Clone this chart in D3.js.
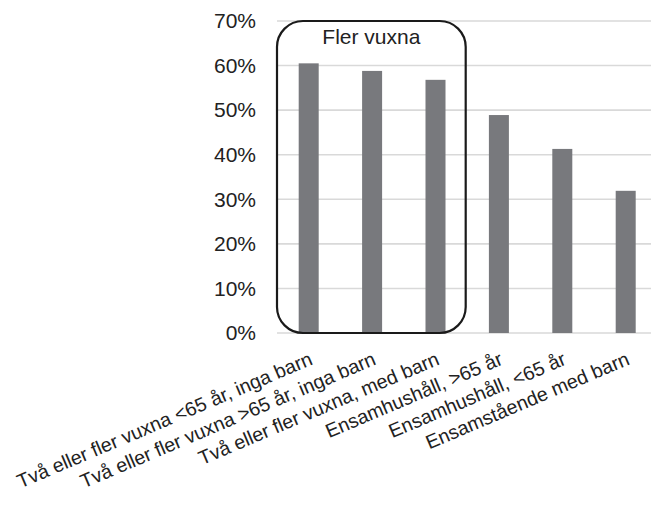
<!DOCTYPE html>
<html>
<head>
<meta charset="utf-8">
<script src="https://cdn.jsdelivr.net/npm/d3@7"></script>
<style>
  html, body { margin: 0; padding: 0; background: #fff; }
  svg { display: block; font-family: "Liberation Sans", Arial, sans-serif; }
</style>
</head>
<body>
<svg id="chart" width="651" height="506"></svg>
<script>
// Hushållstyper och andel per typ
const categories = [
  "Två eller fler vuxna <65 år, inga barn",
  "Två eller fler vuxna >65 år, inga barn",
  "Två eller fler vuxna, med barn",
  "Ensamhushåll, >65 år",
  "Ensamhushåll, <65 år",
  "Ensamstående med barn"
];
const values = [0.605, 0.588, 0.568, 0.489, 0.413, 0.319];
const yTicks = [0, 0.1, 0.2, 0.3, 0.4, 0.5, 0.6, 0.7];
// Kategorier som ringas in som en grupp
const groupLabel = "Fler vuxna";
const groupMembers = categories.slice(0, 3);

const svg = d3.select("#chart");

const x = d3.scaleBand()
  .domain(categories)
  .range([277, 657.4])
  .padding(0);

const y = d3.scaleLinear()
  .domain([0, 0.7])
  .range([333, 21]);

const barWidth = 20;
const textColor = "#222";

// Y-axel med procentetiketter
const yAxis = d3.axisLeft(y)
  .tickValues(yTicks)
  .tickFormat(d3.format(".0%"))
  .tickSize(0)
  .tickPadding(21);

const gy = svg.append("g")
  .attr("transform", "translate(277,0)")
  .call(yAxis);
gy.select(".domain").remove();
gy.selectAll("text")
  .attr("fill", textColor)
  .style("font-size", "21px")
  .style("font-family", "'Liberation Sans', Arial, sans-serif");

// Stödlinjer
svg.append("g")
  .selectAll("line")
  .data(yTicks)
  .join("line")
  .attr("x1", 277)
  .attr("x2", 651)
  .attr("y1", d => y(d))
  .attr("y2", d => y(d))
  .attr("stroke", "#d9d9d9")
  .attr("stroke-width", 1.6);

// Staplar
svg.append("g")
  .selectAll("rect")
  .data(values)
  .join("rect")
  .attr("x", (d, i) => x(categories[i]) + (x.bandwidth() - barWidth) / 2)
  .attr("y", d => y(d))
  .attr("width", barWidth)
  .attr("height", d => y(0) - y(d))
  .attr("fill", "#78797d");

// Kategorietiketter, roterade
const angle = -23;
svg.append("g")
  .selectAll("text")
  .data(categories)
  .join("text")
  .attr("transform", d => `translate(${x(d) + x.bandwidth() / 2 + 5},364) rotate(${angle})`)
  .attr("text-anchor", "end")
  .attr("fill", textColor)
  .style("font-size", "19.6px")
  .text(d => d);

// Rundad ram runt grupp
const gx0 = x(groupMembers[0]);
const gx1 = x(groupMembers[groupMembers.length - 1]) + x.bandwidth() - 1.5;
svg.append("rect")
  .attr("x", gx0)
  .attr("y", y(0.7))
  .attr("width", gx1 - gx0)
  .attr("height", y(0) - y(0.7))
  .attr("rx", 26)
  .attr("ry", 26)
  .attr("fill", "none")
  .attr("stroke", "#1a1a1a")
  .attr("stroke-width", 2.2);

svg.append("text")
  .attr("x", (gx0 + gx1) / 2)
  .attr("y", 43.5)
  .attr("text-anchor", "middle")
  .attr("fill", textColor)
  .style("font-size", "21px")
  .text(groupLabel);
</script>
</body>
</html>
